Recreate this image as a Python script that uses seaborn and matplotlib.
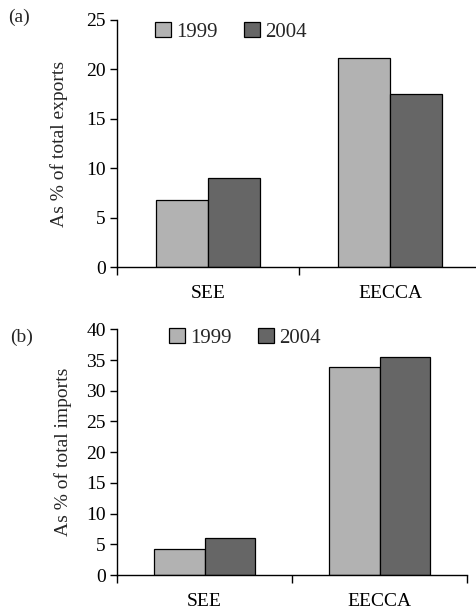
import matplotlib
matplotlib.use("Agg")
import matplotlib.pyplot as plt
import seaborn as sns
import pandas as pd

# Trade shares by region group, 1999 vs 2004
regions = ["SEE", "EECCA"]
years = ["1999", "2004"]
exports_1999 = [6.75, 21.2]
exports_2004 = [9.0, 17.5]
imports_1999 = [4.3, 33.9]
imports_2004 = [6.1, 35.5]

sns.set_theme(style="ticks")
plt.rcParams["font.family"] = ["Liberation Serif", "DejaVu Serif"]
plt.rcParams["font.size"] = 13

palette = {"1999": "#b2b2b2", "2004": "#666666"}


def make_frame(v1999, v2004):
    return pd.DataFrame({
        "region": regions * 2,
        "year": [years[0]] * 2 + [years[1]] * 2,
        "value": list(v1999) + list(v2004),
    })


fig = plt.figure(figsize=(4.77, 6.09), dpi=100)
ax_a = fig.add_axes([117 / 477, (609 - 267) / 609, 364 / 477, 247 / 609])
ax_b = fig.add_axes([117 / 477, (609 - 575) / 609, 350 / 477, 245.7 / 609])


def draw(ax, df, ymax, ylabel, width, legend_anchor, labelpad):
    sns.barplot(data=df, x="region", y="value", hue="year", order=regions,
                hue_order=years, palette=palette, width=width, ax=ax,
                edgecolor="black", linewidth=0.9, saturation=1, legend=True)
    ax.set_xlim(-0.5, 1.5)
    ax.set_ylim(0, ymax)
    ax.set_yticks(range(0, ymax + 1, 5))
    ax.set_xlabel("")
    ax.set_ylabel(ylabel, fontsize=14, labelpad=labelpad)
    for s in ["top", "right"]:
        ax.spines[s].set_visible(False)
    for s in ["left", "bottom"]:
        ax.spines[s].set_color("black")
        ax.spines[s].set_linewidth(1.0)
    ax.tick_params(axis="y", direction="out", length=5, width=1, colors="black",
                   labelsize=14, pad=3)
    ax.tick_params(axis="x", which="major", length=0, labelsize=14, pad=13,
                   colors="black")
    ax.set_xticks([-0.5, 0.5, 1.5], minor=True)
    ax.tick_params(axis="x", which="minor", direction="out", length=6, width=1,
                   color="black")
    ax.legend(ncol=2, frameon=False, loc="upper left",
              bbox_to_anchor=legend_anchor, bbox_transform=fig.transFigure,
              fontsize=15, handlelength=0.75, handleheight=0.75,
              handletextpad=0.25, columnspacing=1.3, borderpad=0,
              borderaxespad=0)


draw(ax_a, make_frame(exports_1999, exports_2004), 25,
     "As % of total exports", 0.571, (155 / 477, 1 - 22 / 609), 13)
draw(ax_b, make_frame(imports_1999, imports_2004), 40,
     "As % of total imports", 0.575, (169 / 477, 1 - 328 / 609), 10)

fig.text(8 / 477, 1 - 22 / 609, "(a)", fontsize=14, va="baseline")
fig.text(10 / 477, 1 - 342 / 609, "(b)", fontsize=14, va="baseline")

fig.savefig("out.png", dpi=100)
